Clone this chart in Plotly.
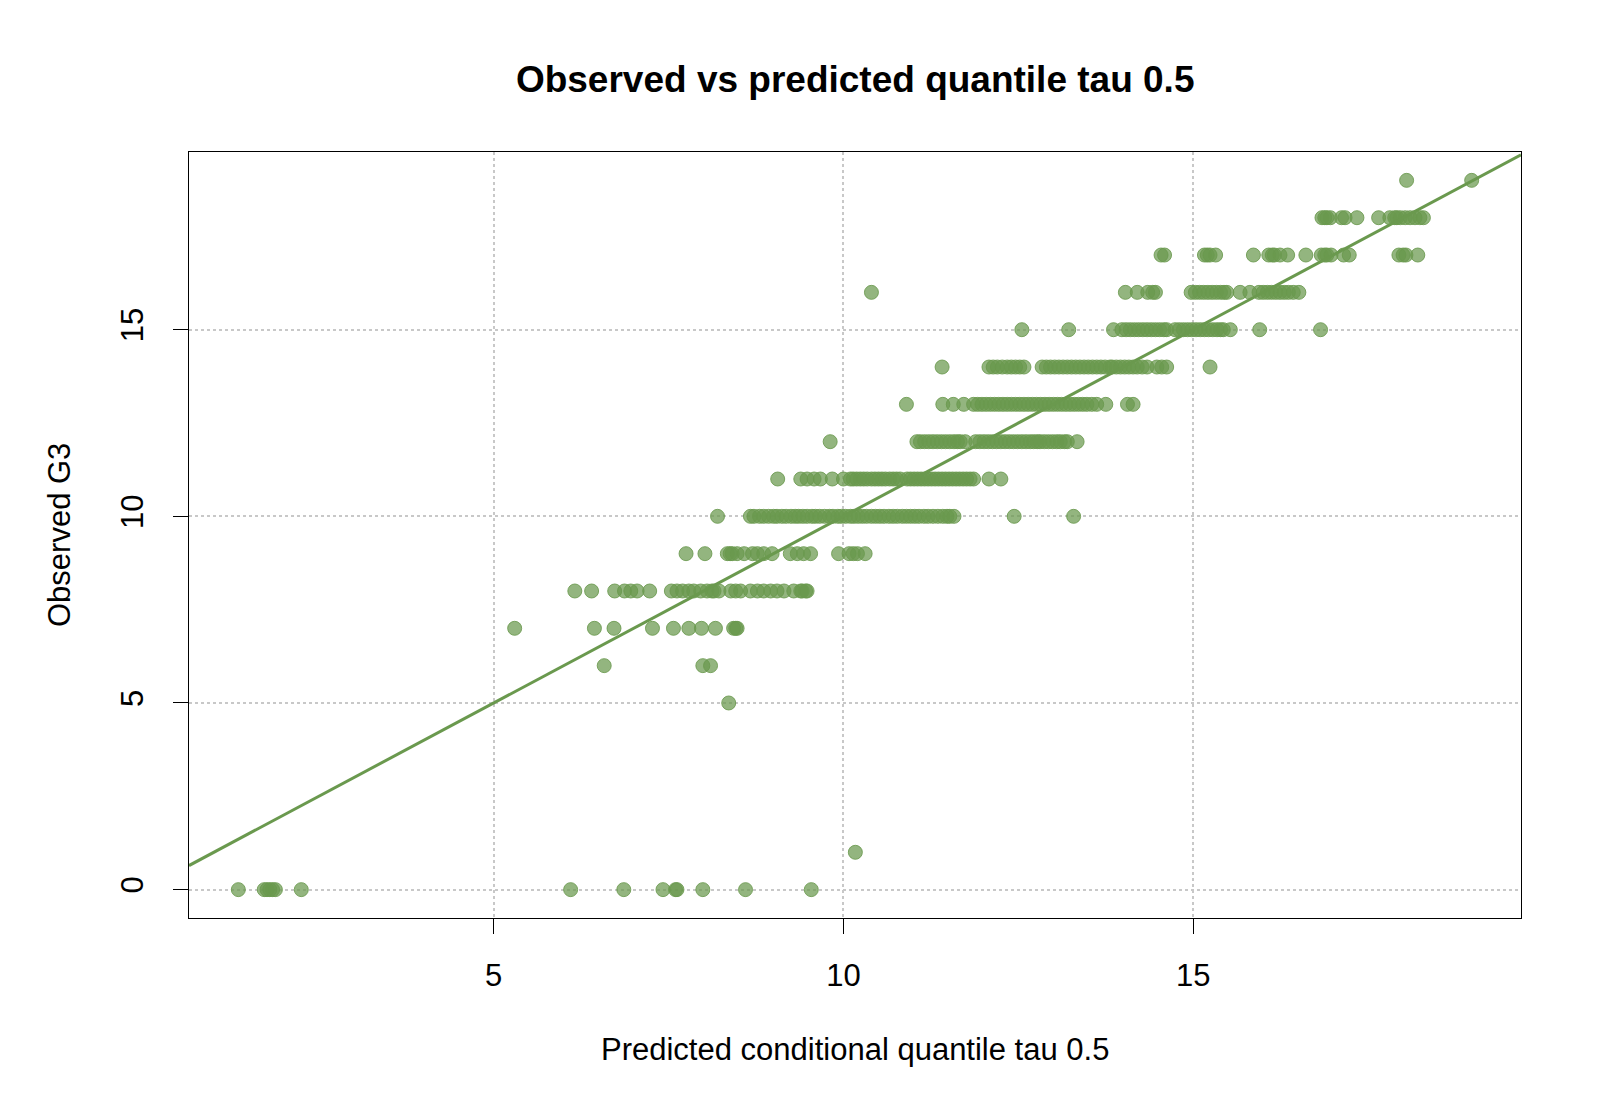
import plotly.graph_objects as go

# Predicted conditional quantile (x) grouped by observed G3 value (y)
pred_by_obs = {
    0: [1.35, 1.72, 1.76, 1.80, 1.84, 1.88, 2.25, 6.10, 6.86, 7.42, 7.60, 7.62, 7.99, 8.60, 9.54],
    1: [10.17],
    5: [8.36],
    6: [6.58, 7.99, 8.10],
    7: [5.30, 6.44, 6.72, 7.27, 7.57, 7.79, 7.97, 8.17, 8.43, 8.46, 8.48],
    8: [6.16, 6.40, 6.73, 6.87, 6.96, 7.05, 7.23, 7.54, 7.62, 7.70, 7.79, 7.86, 7.96, 8.05,
        8.12, 8.15, 8.22, 8.39, 8.46, 8.53, 8.67, 8.77, 8.86, 8.96, 9.05, 9.15, 9.29, 9.39,
        9.41, 9.46, 9.48],
    9: [7.75, 8.02, 8.34, 8.38, 8.41, 8.48, 8.58, 8.70, 8.77, 8.86, 8.98, 9.24, 9.34, 9.43,
        9.53, 9.93, 10.08, 10.14, 10.20, 10.31],
    10: [8.20, 8.67, 8.72, 8.80, 8.86, 8.93, 9.00, 9.05, 9.12, 9.18, 9.25, 9.31, 9.36, 9.42,
         9.48, 9.55, 9.60, 9.66, 9.73, 9.80, 9.85, 9.92, 9.97, 10.03, 10.10, 10.15, 10.21,
         10.27, 10.33, 10.40, 10.46, 10.52, 10.58, 10.65, 10.71, 10.77, 10.84, 10.90, 10.96,
         11.02, 11.08, 11.15, 11.21, 11.28, 11.35, 11.42, 11.48, 11.52, 11.58, 12.44, 13.29],
    11: [9.06, 9.39, 9.48, 9.58, 9.67, 9.84, 10.00, 10.10, 10.14, 10.19, 10.24, 10.29, 10.34,
         10.40, 10.45, 10.50, 10.55, 10.60, 10.66, 10.71, 10.76, 10.81, 10.91, 10.96, 11.01,
         11.06, 11.11, 11.16, 11.21, 11.26, 11.31, 11.36, 11.41, 11.46, 11.51, 11.56, 11.61,
         11.66, 11.71, 11.76, 11.81, 11.86, 12.08, 12.25],
    12: [9.81, 11.05, 11.10, 11.16, 11.22, 11.28, 11.34, 11.40, 11.46, 11.52, 11.58, 11.63,
         11.67, 11.74, 11.89, 11.95, 12.01, 12.07, 12.13, 12.19, 12.25, 12.31, 12.37, 12.43,
         12.49, 12.55, 12.61, 12.67, 12.72, 12.77, 12.81, 12.87, 12.93, 12.99, 13.05, 13.10,
         13.16, 13.20, 13.34],
    13: [10.90, 11.42, 11.57, 11.72, 11.86, 11.92, 11.98, 12.04, 12.10, 12.16, 12.22, 12.28,
         12.34, 12.40, 12.46, 12.52, 12.58, 12.64, 12.70, 12.76, 12.82, 12.88, 12.94, 13.00,
         13.06, 13.12, 13.18, 13.24, 13.30, 13.36, 13.42, 13.48, 13.55, 13.62, 13.75, 14.06,
         14.14],
    14: [11.41, 12.08, 12.14, 12.20, 12.27, 12.34, 12.40, 12.46, 12.52, 12.58, 12.84, 12.90,
         12.96, 13.02, 13.08, 13.14, 13.20, 13.26, 13.32, 13.38, 13.44, 13.50, 13.56, 13.62,
         13.68, 13.74, 13.81, 13.84, 13.90, 13.96, 14.02, 14.08, 14.14, 14.20, 14.27, 14.34,
         14.48, 14.55, 14.62, 15.24],
    15: [12.55, 13.22, 13.86, 13.98, 14.04, 14.10, 14.16, 14.22, 14.28, 14.34, 14.40, 14.46,
         14.52, 14.58, 14.62, 14.74, 14.80, 14.86, 14.92, 14.98, 15.04, 15.10, 15.16, 15.22,
         15.28, 15.34, 15.39, 15.43, 15.53, 15.95, 16.82],
    16: [10.40, 14.03, 14.20, 14.35, 14.42, 14.46, 14.97, 15.03, 15.09, 15.15, 15.21, 15.27,
         15.33, 15.39, 15.44, 15.48, 15.67, 15.81, 15.94, 16.00, 16.06, 16.12, 16.18, 16.24,
         16.30, 16.36, 16.43, 16.51],
    17: [14.54, 14.59, 15.16, 15.20, 15.24, 15.32, 15.86, 16.08, 16.13, 16.16, 16.24, 16.35,
         16.61, 16.83, 16.88, 16.91, 16.97, 17.15, 17.23, 17.94, 18.00, 18.04, 18.21],
    18: [16.84, 16.88, 16.91, 16.96, 17.12, 17.17, 17.34, 17.65, 17.81, 17.88, 17.91, 17.96,
         18.03, 18.10, 18.17, 18.24, 18.29],
    19: [18.05, 18.98],
}

x_ticks = [5, 10, 15]
y_ticks = [0, 5, 10, 15]
title_text = "Observed vs predicted quantile tau 0.5"
x_title = "Predicted conditional quantile tau 0.5"
y_title = "Observed G3"

x_pred = []
y_obs = []
for g, preds in pred_by_obs.items():
    for p in preds:
        x_pred.append(p)
        y_obs.append(g)

# R-style 4% range expansion
def r_range(vals):
    lo, hi = min(vals), max(vals)
    d = (hi - lo) * 0.04
    return [lo - d, hi + d]

xr = r_range(x_pred)
yr = r_range(y_obs)

green = "rgb(106,153,78)"
fill = "rgba(106,153,78,0.72)"
FONT = "Liberation Sans, Arial, Helvetica, sans-serif"

fig = go.Figure()
fig.add_trace(go.Scatter(
    x=x_pred, y=y_obs, mode="markers",
    marker=dict(size=14, color=fill, line=dict(color="rgba(106,153,78,0.85)", width=1)),
    showlegend=False, hoverinfo="x+y",
))
fig.add_trace(go.Scatter(
    x=[xr[0], xr[1]], y=[xr[0], xr[1]], mode="lines",
    line=dict(color=green, width=3), showlegend=False, hoverinfo="skip",
))

axis_common = dict(
    showline=True, linecolor="black", linewidth=1.3, mirror=True,
    ticks="outside", ticklen=15, tickwidth=1.3, tickcolor="black",
    showgrid=True, gridcolor="rgb(200,200,200)", griddash="dot", gridwidth=1.6,
    zeroline=False, tickfont=dict(family=FONT, size=31, color="black"),
)

fig.update_layout(
    width=1600, height=1108,
    margin=dict(l=189, r=79, t=152, b=190),
    plot_bgcolor="white", paper_bgcolor="white",
    xaxis=dict(range=xr, tickvals=x_ticks, ticklabelstandoff=15, **axis_common),
    yaxis=dict(range=yr, tickvals=y_ticks, tickangle=-90, ticklabelstandoff=17, **axis_common),
    title=dict(text="<b>" + title_text + "</b>", x=0.5345, xanchor="center",
               y=1 - 78.6 / 1108, yanchor="middle", yref="container",
               font=dict(family=FONT, size=37, color="black")),
    annotations=[
        dict(text=x_title, xref="paper", yref="paper", x=0.5, y=-(1049 - 918) / 766,
             xanchor="center", yanchor="middle", showarrow=False,
             font=dict(family=FONT, size=31, color="black")),
        dict(text=y_title, xref="paper", yref="paper", x=(59 - 189) / 1332, y=0.5,
             xanchor="center", yanchor="middle", showarrow=False, textangle=-90,
             font=dict(family=FONT, size=31, color="black")),
    ],
)

fig.write_html("out.html")
